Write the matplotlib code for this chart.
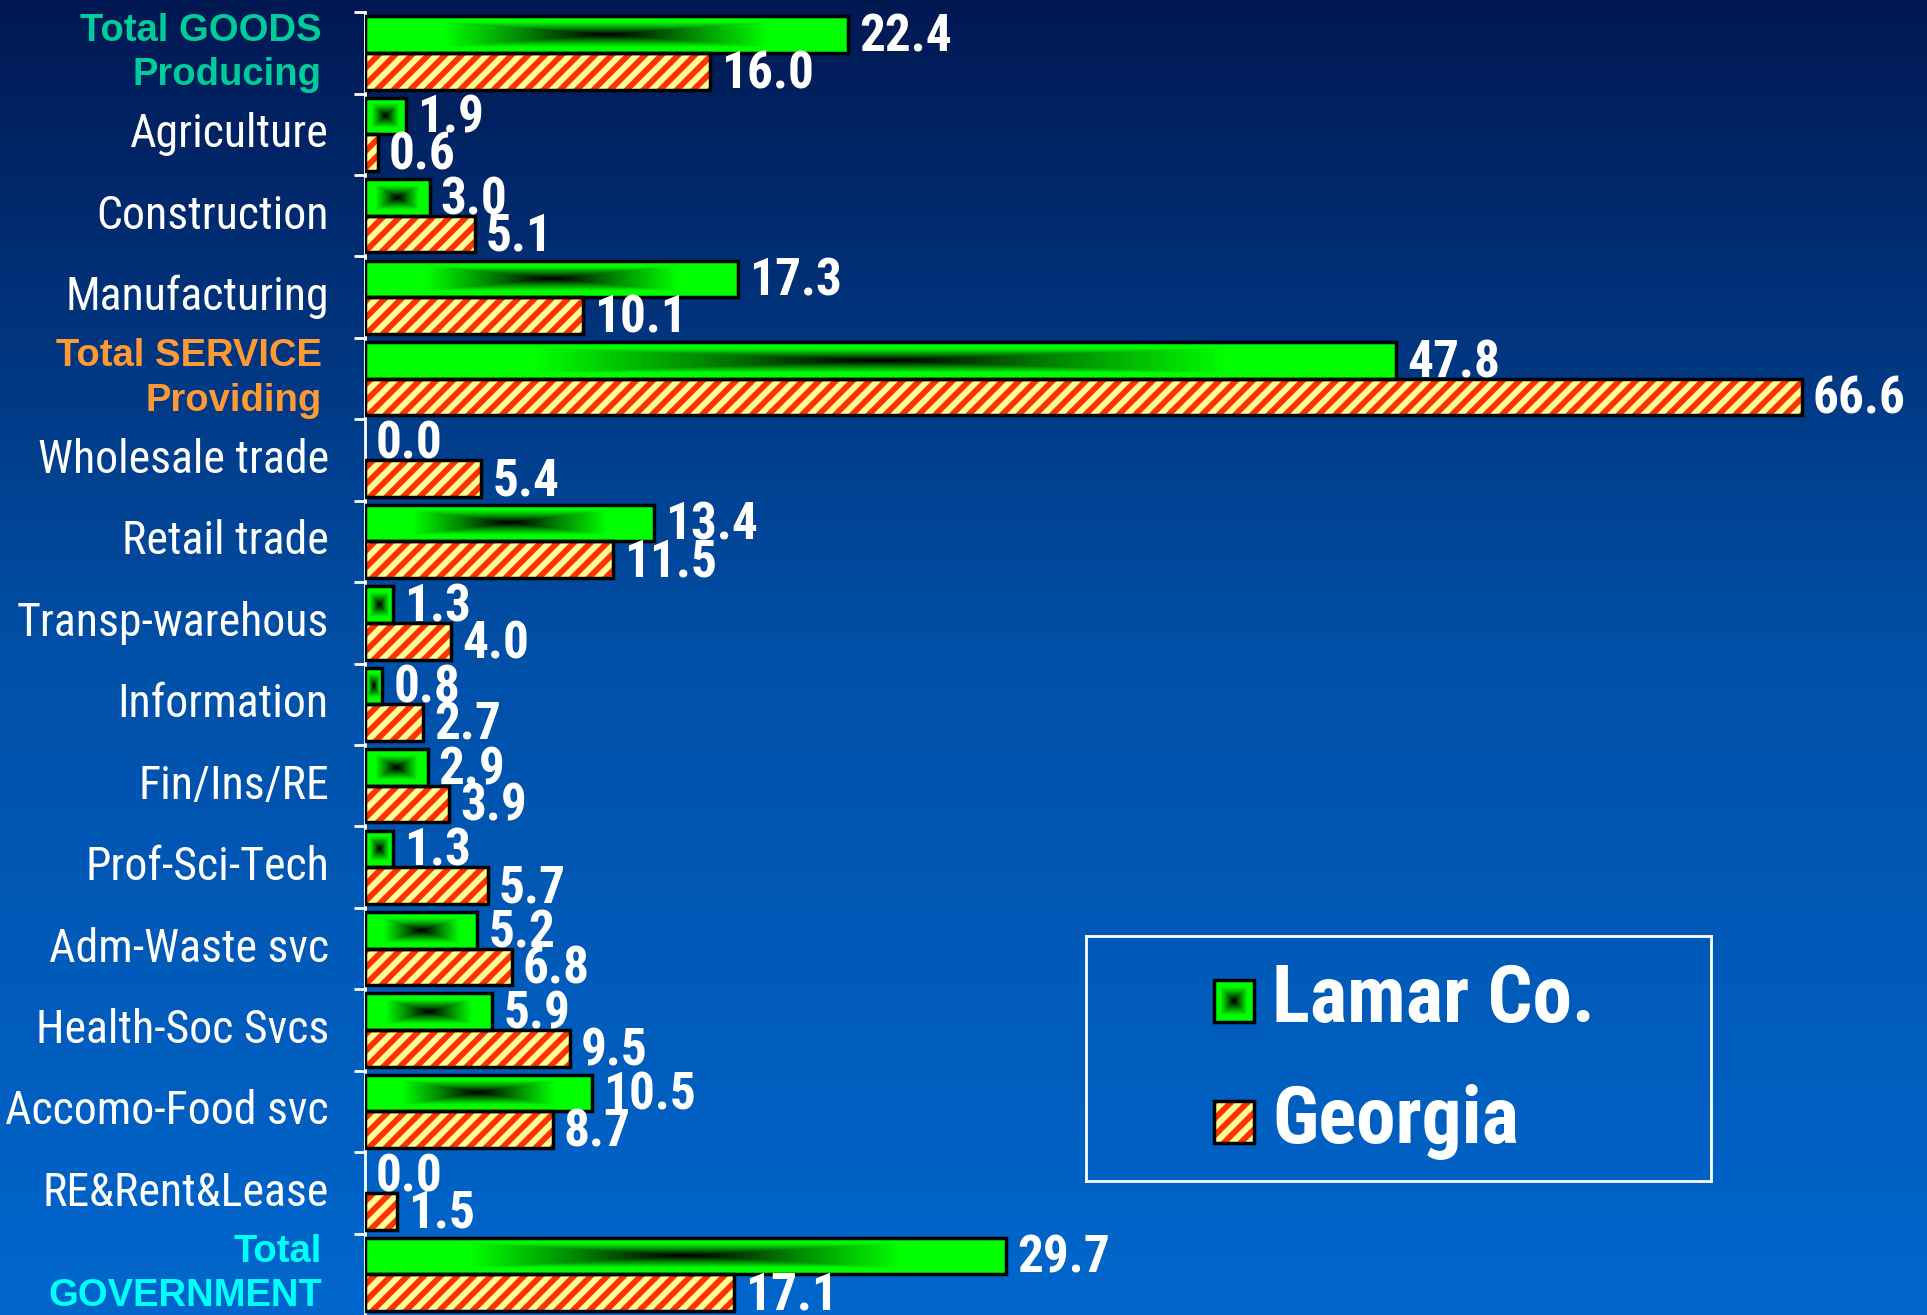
import numpy as np
import matplotlib
matplotlib.use("Agg")
import matplotlib.pyplot as plt
from matplotlib.colors import LinearSegmentedColormap
from matplotlib.patches import Rectangle

categories = ["Total GOODS\nProducing", "Agriculture", "Construction", "Manufacturing",
              "Total SERVICE\nProviding", "Wholesale trade", "Retail trade", "Transp-warehous",
              "Information", "Fin/Ins/RE", "Prof-Sci-Tech", "Adm-Waste svc",
              "Health-Soc Svcs", "Accomo-Food svc", "RE&Rent&Lease", "Total\nGOVERNMENT"]
lamar = [22.4, 1.9, 3.0, 17.3, 47.8, 0.0, 13.4, 1.3, 0.8, 2.9, 1.3, 5.2, 5.9, 10.5, 0.0, 29.7]
georgia = [16.0, 0.6, 5.1, 10.1, 66.6, 5.4, 11.5, 4.0, 2.7, 3.9, 5.7, 6.8, 9.5, 8.7, 1.5, 17.1]
label_colors = {0: "#00CC99", 4: "#FF9933", 15: "#00FFFF"}

plt.rcParams["font.family"] = ["Roboto Condensed", "Liberation Sans", "DejaVu Sans"]
plt.rcParams["hatch.linewidth"] = 4.2

fig = plt.figure(figsize=(19.27, 13.15), dpi=100)

# background gradient
bg = fig.add_axes([0, 0, 1, 1], zorder=-10)
bg_cmap = LinearSegmentedColormap.from_list(
    "bg", [(0, "#001852"), (0.5, "#0050A8"), (1, "#0066CC")])
bg.imshow(np.linspace(0, 1, 256).reshape(-1, 1), aspect="auto", cmap=bg_cmap,
          extent=[0, 1, 1, 0])
bg.axis("off")

ax = fig.add_axes([0.1894, 0.0, 1 - 0.1894, 0.9907])
ax.set_facecolor("none")
ax.set_xlim(0, 72.4)
ax.set_ylim(len(categories) - 0.5, -0.5)

green_cmap = LinearSegmentedColormap.from_list("g", ["#000000", "#008800", "#00FF00", "#00FF00"])


def gradient_bar(ax, x0, y0, w, h, z=3):
    if w <= 0:
        return
    nx, ny = 300, 60
    xx = np.abs(np.linspace(-1, 1, nx))
    yy = np.abs(np.linspace(-1, 1, ny))
    t = np.maximum(xx[None, :], yy[:, None])
    im = ax.imshow(t, cmap=green_cmap, extent=[x0, x0 + w, y0 + h, y0],
                   aspect="auto", zorder=z, interpolation="bilinear")
    rect = Rectangle((x0, y0), w, h, facecolor="none", edgecolor="black", lw=2.5, zorder=z + 1)
    ax.add_patch(rect)
    im.set_clip_path(rect)


def striped(ax, x0, y0, w, h, z=3):
    ax.add_patch(Rectangle((x0, y0), w, h, facecolor="#FFFF99", edgecolor="#FF3300",
                           hatch="//", lw=0, zorder=z))
    ax.add_patch(Rectangle((x0, y0), w, h, facecolor="none", edgecolor="black",
                           lw=2.5, zorder=z + 1))


bh = 0.45
for i, (lv, gv) in enumerate(zip(lamar, georgia)):
    gradient_bar(ax, 0, i - bh, lv, bh)
    if gv > 0:
        striped(ax, 0, i, gv, bh)
    ax.annotate(f"{lv:.1f}", xy=(lv, i - bh / 2), xytext=(8, -2), textcoords="offset points",
                ha="left", va="center", color="white", fontsize=37, fontweight="bold", zorder=6)
    ax.annotate(f"{gv:.1f}", xy=(gv, i + bh / 2), xytext=(8, -2), textcoords="offset points",
                ha="left", va="center", color="white", fontsize=37, fontweight="bold", zorder=6)

# category labels
for i, cat in enumerate(categories):
    if i in label_colors:
        ax.annotate(cat, xy=(0, i), xycoords=ax.get_yaxis_transform(), xytext=(-31, 0),
                    textcoords="offset points", ha="right", va="center", ma="right",
                    color=label_colors[i], fontsize=27.5, fontweight="bold", linespacing=1.3,
                    family=["Liberation Sans", "DejaVu Sans"])
    else:
        ax.annotate(cat, xy=(0, i), xycoords=ax.get_yaxis_transform(), xytext=(-26, 0),
                    textcoords="offset points", ha="right", va="center",
                    color="white", fontsize=33)

# axis styling
for s in ["top", "right", "bottom"]:
    ax.spines[s].set_visible(False)
ax.spines["left"].set_color("white")
ax.spines["left"].set_linewidth(2)
ax.set_xticks([])
ax.set_yticks(np.arange(len(categories)) - 0.5)
ax.set_yticklabels([])
ax.tick_params(axis="y", direction="out", length=8, width=2, color="white")

# legend
lg = fig.add_axes([1086 / 1927, 1 - 1181 / 1315, (1711 - 1086) / 1927, (1181 - 936) / 1315])
lg.set_xlim(0, 625)
lg.set_ylim(245, 0)
lg.set_facecolor("none")
for s in lg.spines.values():
    s.set_color("white")
    s.set_linewidth(2)
lg.set_xticks([])
lg.set_yticks([])
gradient_bar(lg, 128, 44, 40, 42)
striped(lg, 128, 165, 40, 42)
lg.text(186, 65, "Lamar Co.", color="white", fontsize=57, fontweight="bold",
        ha="left", va="center")
lg.text(186, 186, "Georgia", color="white", fontsize=57, fontweight="bold",
        ha="left", va="center")

fig.savefig("out.png", dpi=100)
